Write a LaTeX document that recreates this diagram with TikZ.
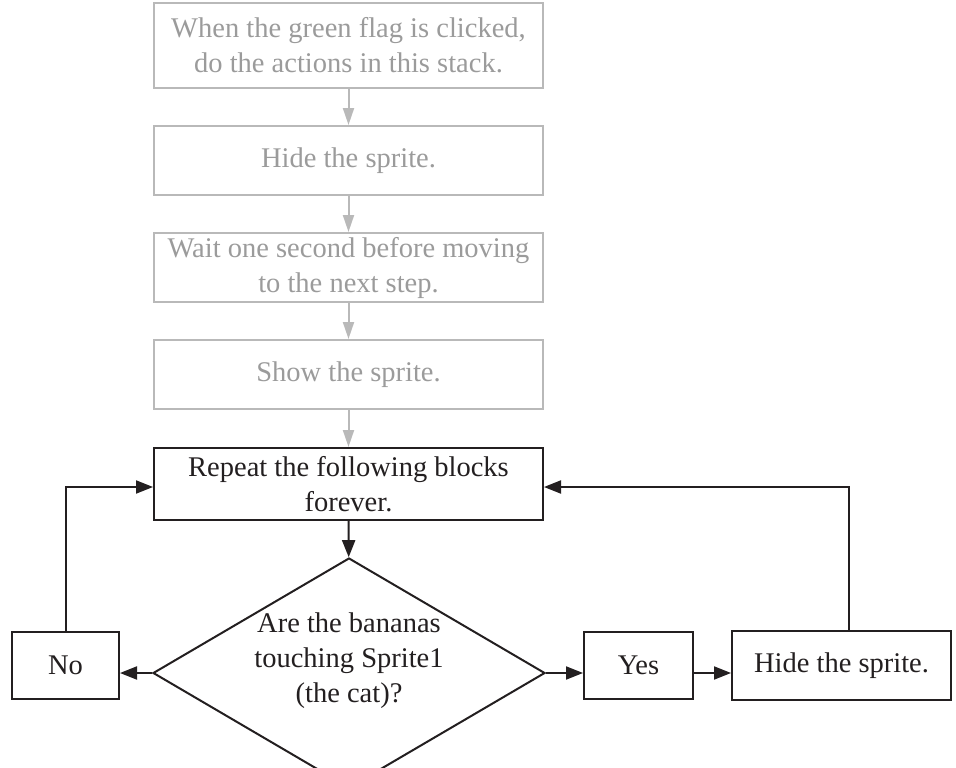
\documentclass[tikz,border=0pt]{standalone}
\usepackage{fontspec}
\setmainfont{Liberation Serif}
\usetikzlibrary{shapes.geometric,arrows.meta}
\definecolor{boxgray}{RGB}{185,185,185}
\definecolor{txtgray}{RGB}{155,155,155}
\definecolor{ink}{RGB}{35,31,32}

\begin{document}
\begin{tikzpicture}[x=1pt,y=-1pt,
  every node/.style={font=\fontsize{28.5}{35}\selectfont, align=center, line width=2pt, inner sep=0pt},
  gbox/.style={draw=boxgray, text=txtgray, minimum width=389pt, minimum height=69pt},
  kbox/.style={draw=ink, text=ink, minimum height=67pt},
  garrow/.style={draw=boxgray, line width=2pt, -{Triangle[length=17pt,width=11pt]}},
  karrow/.style={draw=ink, line width=2pt, -{Triangle[length=17pt,width=13pt]}}]
\def\xc{348.5}
\def\yq{673}
  \useasboundingbox (0,0) rectangle (956,768);
  \clip (0,0) rectangle (956,768);

  % grey stack
  \node[gbox, minimum height=85pt] (flag) at (\xc,45.5) {When the green flag is clicked,\\do the actions in this stack.};
  \node[gbox] (hide1) at (\xc,160.5) {Hide the sprite.};
  \node[gbox] (wait) at (\xc,267.5) {Wait one second before moving\\to the next step.};
  \node[gbox] (show) at (\xc,374.5) {Show the sprite.};

  % loop
  \node[kbox, minimum width=389pt, minimum height=72pt] (rep) at (\xc,484) {Repeat the following blocks\\forever.};
  \node[draw=ink, shape=diamond, minimum width=392pt, minimum height=230pt] (q) at (349,\yq) {};
  \node[text=ink] (qtext) at (349,661) {Are the bananas\\touching Sprite1\\(the cat)?};
  \node[kbox, minimum width=107pt] (no) at (65.5,665.5) {No};
  \node[kbox, minimum width=109pt] (yes) at (638.5,665.5) {Yes};
  \node[kbox, minimum width=219pt, minimum height=69pt] (hidecat) at (841.5,665.5) {Hide the sprite.};

  \foreach \a/\b in {flag/hide1, hide1/wait, wait/show, show/rep}
    \draw[garrow] (\a) -- (\b);
  \draw[karrow] (rep) -- (q);
  \draw[karrow] (q.west) -- (q.west -| no.east);
  \draw[karrow] (q.east) -- (q.east -| yes.west);
  \draw[karrow] (yes.east |- q.east) -- (hidecat.west |- q.east);
  \draw[karrow] (no.north) |- ([yshift=-3pt]rep.west);
  \draw[karrow] ([xshift=7.5pt]hidecat.north) |- ([yshift=-3pt]rep.east);
\end{tikzpicture}
\end{document}
